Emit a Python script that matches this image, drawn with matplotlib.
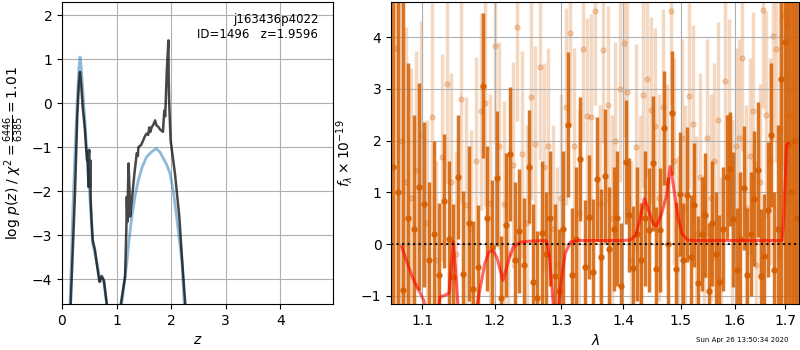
import numpy as np
import matplotlib
matplotlib.use('Agg')
import matplotlib.pyplot as plt
from matplotlib.ticker import FormatStrFormatter, NullLocator

# --- p(z) panel ---
z_blue = [0.05, 0.147, 0.20, 0.24, 0.28, 0.31, 0.33, 0.35, 0.38, 0.42, 0.45, 0.51, 0.56,
          0.60, 0.65, 0.70, 0.74, 0.77, 0.82, 0.90, 1.00, 1.095, 1.14, 1.187, 1.23, 1.28,
          1.34, 1.40, 1.47, 1.55, 1.63, 1.725, 1.80, 1.86, 1.92, 1.98, 2.04, 2.10, 2.15,
          2.20, 2.24, 2.35, 4.97]
logp_blue = [-9, -4.57, -2.4, -1.1, 0.1, 0.8, 1.05, 0.85, 0.3, -0.4, -1.03, -2.13, -3.18,
             -3.4, -3.7, -4.06, -4.0, -4.1, -4.57, -7, -7, -4.57, -4.1, -3.64, -3.1, -2.58,
             -2.1, -1.75, -1.45, -1.22, -1.12, -1.03, -1.12, -1.26, -1.4, -1.6, -2.0, -2.58,
             -3.1, -3.64, -4.57, -8, -20]

z_dark = [0.05, 0.16, 0.24, 0.28, 0.31, 0.33, 0.35, 0.38, 0.42, 0.44, 0.46, 0.47, 0.483,
          0.49, 0.50, 0.51, 0.52, 0.526, 0.54, 0.563, 0.605, 0.636, 0.685, 0.705, 0.728,
          0.75, 0.77, 0.82, 0.90, 1.00, 1.077, 1.156, 1.18, 1.187, 1.20, 1.205, 1.22, 1.235,
          1.248, 1.28, 1.327, 1.37, 1.39, 1.40, 1.45, 1.49, 1.52, 1.55, 1.58, 1.60, 1.62,
          1.645, 1.67, 1.706, 1.73, 1.767, 1.80, 1.85, 1.87, 1.88, 1.89, 1.90, 1.92, 1.94,
          1.95, 1.955, 1.963, 1.99, 2.07, 2.15, 2.21, 2.26, 2.35, 4.97]
logp_dark = [-9, -4.57, -2.0, -0.3, 0.45, 0.71, 0.45, -0.1, -0.6, -0.99, -1.3, -1.1, -1.9,
             -1.2, -1.06, -1.9, -1.3, -2.2, -2.6, -3.11, -3.34, -3.64, -4.06, -4.0, -3.93,
             -3.98, -4.04, -4.57, -7, -7, -4.57, -3.95, -2.81, -2.13, -2.7, -2.2, -1.37, -1.9,
             -2.58, -2.2, -1.6, -1.14, -1.2, -1.0, -0.95, -0.84, -0.75, -0.69, -0.72, -0.55,
             -0.65, -0.54, -0.5, -0.39, -0.5, -0.54, -0.6, -0.65, -0.25, -0.16, -0.3, 0.0,
             0.71, 1.2, 1.43, 0.6, 0.07, -0.84, -1.6, -2.58, -3.72, -4.57, -8, -20]

# --- spectrum panel: first grism orientation (dark) ---
wave_a = [1.062, 1.069, 1.075, 1.082, 1.089, 1.096, 1.102, 1.109, 1.116, 1.122,
          1.129, 1.136, 1.142, 1.149, 1.156, 1.163, 1.169, 1.176, 1.183, 1.189,
          1.196, 1.203, 1.209, 1.216, 1.223, 1.230, 1.236, 1.243, 1.250, 1.256,
          1.263, 1.270, 1.276, 1.283, 1.290, 1.296, 1.303, 1.310, 1.317, 1.323,
          1.330, 1.337, 1.343, 1.350, 1.357, 1.363, 1.370, 1.377, 1.384, 1.390,
          1.397, 1.404, 1.410, 1.417, 1.424, 1.431, 1.437, 1.444, 1.451, 1.457,
          1.464, 1.471, 1.477, 1.484, 1.491, 1.498, 1.504, 1.511, 1.518, 1.524,
          1.531, 1.538, 1.544, 1.551, 1.558, 1.564, 1.571, 1.578, 1.585, 1.591,
          1.598, 1.605, 1.611, 1.618, 1.625, 1.632, 1.638, 1.645, 1.652, 1.658,
          1.665, 1.672, 1.678, 1.685, 1.692, 1.699, 1.705, 1.712, 1.719, 1.725]
flux_a = [1.5, 1.0, -0.89, 0.5, 0.3, 1.11, 0.77, -0.3, 0.2, -0.6,
          0.83, 0.1, -0.63, 1.30, -0.58, 0.4, -0.86, -0.44, 3.06, 0.5,
          -0.05, 1.27, -1.05, 0.37, 1.74, -0.3, 0.26, -0.4, 1.50, -0.73,
          -1.04, 0.21, -0.2, 0.5, -0.62, -0.9, 0.3, 2.31, -0.6, 0.1,
          1.64, -0.45, 0.52, -0.53, 1.26, -0.24, 1.32, -0.1, 0.3, 0.50,
          -0.8, 1.58, 0.56, -0.47, 0.2, -0.3, 0.50, 0.27, 1.56, -0.48,
          0.27, 2.24, 0.0, 2.54, -0.49, 0.97, -0.3, 0.96, -0.24, 0.75,
          -0.75, 0.2, 0.56, -0.9, 0.4, -0.2, -0.73, 0.30, 1.30, 1.46,
          0.48, -0.5, 0.1, 1.08, -0.6, 0.2, 0.88, 1.44, -0.62, -0.23,
          0.67, 2.11, -0.50, 0.3, 3.20, 3.90, 1.91, 1.0, 2.0, 0.5]
err_a = [8, 8, 6, 3.0, 2.2, 2.0, 1.6, 1.5, 1.8, 1.4,
         1.3, 1.5, 1.4, 1.2, 1.6, 1.5, 1.3, 1.2, 1.4, 1.4,
         1.3, 1.3, 1.2, 1.4, 1.3, 1.5, 1.2, 1.3, 1.1, 1.5,
         1.3, 1.4, 1.2, 1.3, 1.4, 1.2, 1.5, 1.4, 1.3, 1.4,
         1.2, 1.3, 1.2, 1.4, 1.2, 1.3, 1.3, 1.2, 1.2, 1.3,
         1.2, 1.2, 1.1, 1.2, 1.3, 1.1, 1.3, 1.2, 1.3, 1.2,
         1.2, 1.1, 1.3, 1.2, 1.3, 1.2, 1.1, 1.3, 1.2, 1.2,
         1.3, 1.1, 1.2, 1.3, 1.2, 1.2, 1.3, 1.2, 1.2, 1.1,
         1.3, 1.2, 1.3, 1.2, 1.3, 1.2, 1.3, 1.3, 1.3, 1.2,
         1.3, 1.4, 1.5, 2.0, 6, 6, 6, 8, 8, 8]

# --- second orientation (light) ---
wave_b = [1.0655, 1.072, 1.079, 1.086, 1.092, 1.099, 1.106, 1.113, 1.119, 1.126,
          1.133, 1.139, 1.146, 1.153, 1.160, 1.166, 1.173, 1.180, 1.186, 1.193,
          1.200, 1.206, 1.213, 1.220, 1.226, 1.233, 1.240, 1.247, 1.253, 1.260,
          1.267, 1.273, 1.280, 1.287, 1.293, 1.300, 1.307, 1.314, 1.320, 1.327,
          1.334, 1.340, 1.347, 1.354, 1.361, 1.367, 1.374, 1.381, 1.387, 1.394,
          1.401, 1.407, 1.414, 1.421, 1.428, 1.434, 1.441, 1.448, 1.455, 1.461,
          1.468, 1.475, 1.482, 1.488, 1.495, 1.502, 1.508, 1.515, 1.522, 1.528,
          1.535, 1.542, 1.548, 1.555, 1.562, 1.568, 1.575, 1.582, 1.589, 1.595,
          1.602, 1.609, 1.615, 1.622, 1.629, 1.636, 1.642, 1.649, 1.656, 1.662,
          1.669, 1.676, 1.682, 1.689, 1.696, 1.703, 1.709, 1.716, 1.723]
flux_b = [3.79, 2.0, 1.2, 0.9, 1.43, 2.11, 0.4, 2.46, -0.3, 1.68,
          3.09, 1.2, -0.2, 2.8, 0.75, 0.3, 1.61, 2.57, 2.73, 0.8,
          3.83, 1.9, 0.77, -0.2, 1.53, 4.19, 1.74, 0.4, 2.85, 1.94,
          3.43, 1.5, 1.9, 0.3, -0.4, 0.9, 2.66, 4.08, 1.9, 0.6,
          3.78, 2.48, 2.45, 4.5, 0.8, 3.75, 2.7, 0.5, 2.0, 3.0,
          3.88, 2.95, -0.3, 1.87, 0.6, 2.88, 3.19, 2.6, 2.28, 0.9,
          2.65, 1.2, 4.5, 1.6, -0.2, 2.06, 0.7, 2.87, 2.33, 0.2,
          1.3, -0.6, 2.06, 0.9, 1.6, 2.4, -0.7, 3.16, 2.46, 0.4,
          1.9, 2.06, 3.60, 0.7, 1.7, 2.58, -0.4, 1.2, 4.53, 2.5,
          1.6, 4.02, 3.78, 2.2, 4.43, 4.27, 2.5, 3.0, 2.0]
err_b = [6, 5, 3, 2.5, 2.3, 2.2, 2.0, 2.2, 1.9, 2.0,
         1.9, 2.1, 2.0, 2.0, 2.1, 1.9, 2.0, 1.9, 2.0, 2.1,
         1.9, 2.0, 2.0, 1.9, 2.0, 1.8, 2.0, 1.9, 2.0, 1.9,
         1.8, 2.0, 1.9, 2.0, 1.9, 2.0, 1.9, 1.8, 1.9, 2.0,
         1.8, 1.9, 2.0, 1.8, 1.9, 1.8, 1.9, 2.0, 1.9, 1.8,
         1.8, 1.9, 1.9, 2.0, 1.9, 1.8, 1.9, 1.8, 1.9, 2.0,
         1.9, 1.9, 1.8, 2.0, 1.9, 1.9, 2.0, 1.8, 1.9, 1.9,
         2.0, 1.9, 1.9, 2.0, 1.9, 1.9, 2.0, 1.8, 1.9, 2.0,
         1.9, 1.9, 1.8, 2.0, 1.9, 1.9, 2.0, 1.9, 1.9, 2.0,
         2.0, 2.0, 2.2, 2.5, 3.0, 3.5, 3.5, 4, 4]

# --- best-fit model ---
wave_model = [1.0734, 1.087, 1.102, 1.110, 1.118, 1.124, 1.130, 1.136, 1.140, 1.142,
              1.145, 1.149, 1.157, 1.165, 1.172, 1.178, 1.186, 1.192, 1.197, 1.203,
              1.212, 1.219, 1.227, 1.238, 1.255, 1.270, 1.277, 1.281, 1.286, 1.292,
              1.299, 1.306, 1.314, 1.327, 1.360, 1.400, 1.412, 1.421, 1.428, 1.436,
              1.442, 1.451, 1.457, 1.466, 1.474, 1.481, 1.486, 1.495, 1.502, 1.512,
              1.530, 1.600, 1.694, 1.697, 1.700, 1.703, 1.706]
flux_model = [-0.05, -0.63, -1.08, -1.6, -1.6, -1.02, -0.99, -0.95, -0.3, 0.05,
              -0.5, -1.3, -1.7, -1.7, -1.4, -0.95, -0.37, -0.15, -0.12, -0.25,
              -0.70, -0.37, -0.05, 0.04, 0.06, 0.07, 0.06, -0.18, -0.95, -1.8,
              -0.76, -0.18, 0.04, 0.07, 0.07, 0.07, 0.08, 0.17, 0.46, 0.88,
              0.70, 0.40, 0.35, 0.59, 0.91, 1.50, 1.2, 0.53, 0.21, 0.08,
              0.07, 0.07, 0.07, 0.5, 1.2, 1.91, 1.95]

orange = '#D55E00'

fig = plt.figure(figsize=(8, 3.5), dpi=100)

# p(z)
axz = fig.add_axes([0.0775, 0.131, 0.339, 0.863])
axz.plot(z_blue, logp_blue, color='#1f77b4', alpha=0.5, lw=2)
axz.plot(z_dark, logp_dark, color='k', alpha=0.72, lw=1.8)
axz.set_xlim(0, 4.97)
axz.set_ylim(-4.57, 2.3)
axz.set_xticks([0, 1, 2, 3, 4])
axz.set_yticks([-4, -3, -2, -1, 0, 1, 2])
axz.grid(True)
axz.set_xlabel(r'$z$')
axz.set_ylabel(r'log $p(z)$ / $\chi^2=\frac{6446}{6385}=1.01$')
axz.text(0.945, 0.965, 'j163436p4022\nID=1496   z=1.9596', transform=axz.transAxes,
         ha='right', va='top', fontsize=8.5)

# spectrum
ax = fig.add_axes([0.489, 0.131, 0.51, 0.863])
ax.errorbar(wave_b, flux_b, yerr=err_b, fmt='o', color=orange, alpha=0.24,
            ms=3.6, elinewidth=2.5, capsize=0, zorder=1)
ax.errorbar(wave_a, flux_a, yerr=err_a, fmt='o', color=orange, alpha=0.85,
            ms=3.6, elinewidth=2.5, capsize=0, zorder=2)
ax.plot(wave_model, flux_model, color='r', alpha=0.6, lw=2.2, zorder=4)
ax.axhline(0, color='k', ls=':', lw=1.5, alpha=0.9, zorder=5)

ax.set_xscale('log')
ax.set_xlim(1.06, 1.729)
ax.set_ylim(-1.16, 4.68)
ax.set_xticks([1.1, 1.2, 1.3, 1.4, 1.5, 1.6, 1.7])
ax.xaxis.set_major_formatter(FormatStrFormatter('%.1f'))
ax.xaxis.set_minor_locator(NullLocator())
ax.set_yticks([-1, 0, 1, 2, 3, 4])
ax.grid(True)
ax.set_xlabel(r'$\lambda$')
ax.set_ylabel(r'$f_\lambda\times10^{-19}$')

fig.text(0.985, 0.02, 'Sun Apr 26 13:50:34 2020', ha='right', va='bottom', fontsize=5)

fig.savefig('out.png', dpi=100)
